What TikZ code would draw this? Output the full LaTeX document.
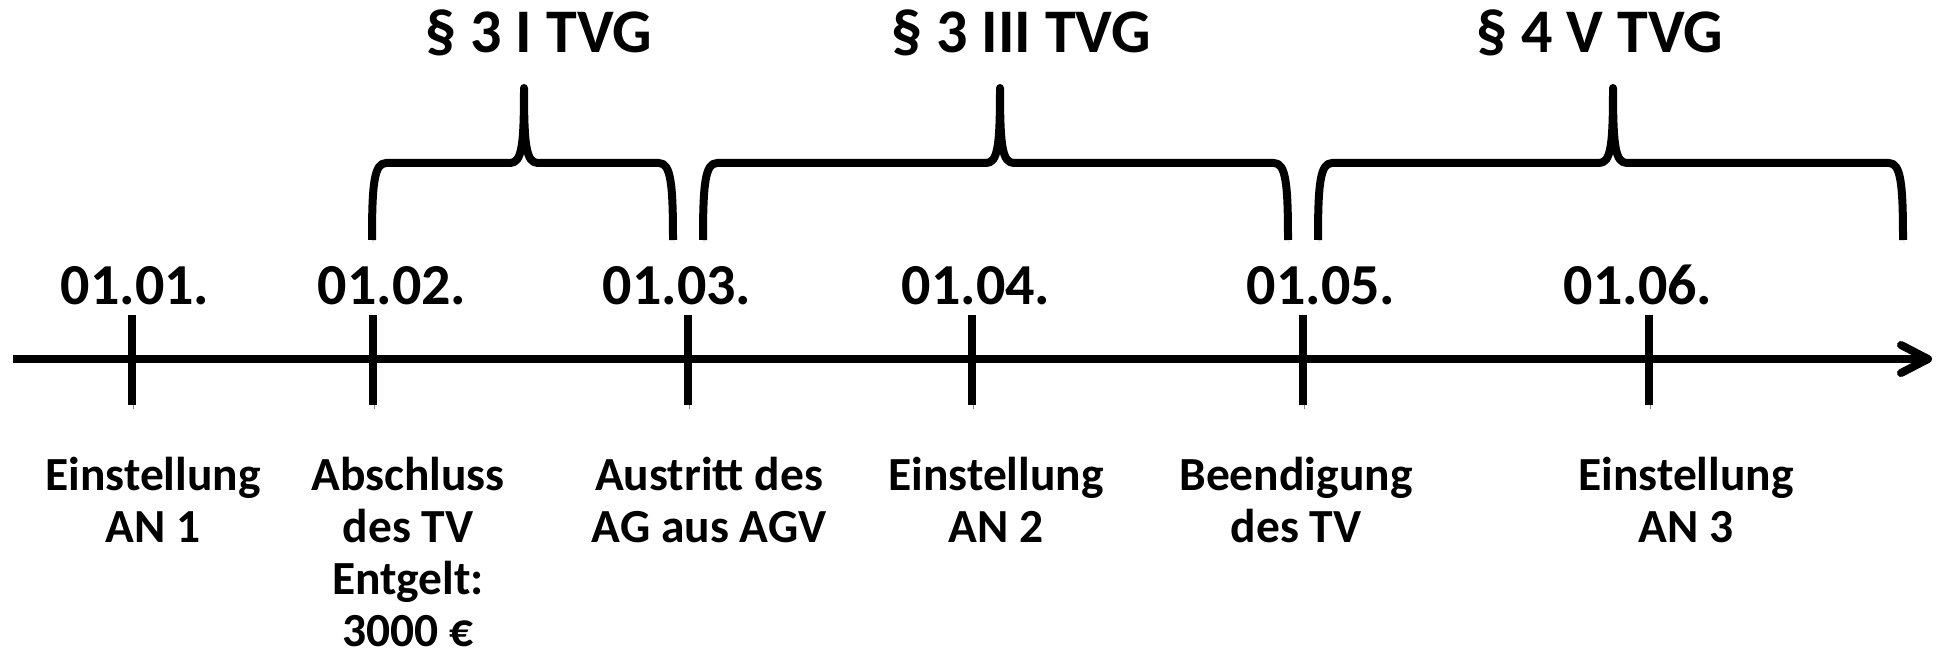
\documentclass[tikz,border=0pt]{standalone}
\usepackage{fontspec}
\setmainfont{Carlito}
\tikzset{
  ln/.style={line width=8pt,
    preaction={draw=black!45, transform canvas={shift={(1pt,-3.5pt)}}}},
  datelbl/.style={anchor=base, inner sep=0pt, font=\fontsize{58}{68}\selectfont\bfseries},
  titlelbl/.style={anchor=base, inner sep=0pt, font=\fontsize{62}{73}\selectfont\bfseries},
  evlbl/.style={anchor=base, inner sep=0pt, font=\fontsize{47.5}{52}\selectfont\bfseries},
}
\newcommand\tvbrace[3]{%
  \draw[ln, line join=round] (#1,240) .. controls (#1,185) and (#1+2,163) .. (#1+14,163)
    -- (#2-14,163) .. controls (#2-2,163) and (#2,145) .. (#2,88)
    .. controls (#2,145) and (#2+2,163) .. (#2+14,163)
    -- (#3-14,163) .. controls (#3-2,163) and (#3,185) .. (#3,240);}
\begin{document}
\begin{tikzpicture}[x=1pt,y=-1pt]
\useasboundingbox (0,0) rectangle (1939,666);
% time axis
\coordinate (axstart) at (13,359);
\coordinate (axtip) at (1928,359);
\draw[ln] (axstart) -- (axtip);
\draw[ln, line cap=round, line join=round] ([shift={(-27,-14)}]axtip) -- (axtip) -- ([shift={(-27,14)}]axtip);
% ticks
\foreach \n/\x in {d1/132, d2/373, d3/688, d4/972, d5/1303, d6/1649}{
  \coordinate (\n-top) at (\x,315);
  \coordinate (\n-bot) at (\x,405);
  \draw[ln] (\n-top) -- (\n-bot);
}
% dates
\node[datelbl] (date1) at (135,304) {01.01.};
\node[datelbl] (date2) at (392,304) {01.02.};
\node[datelbl] (date3) at (677,304) {01.03.};
\node[datelbl] (date4) at (976,304) {01.04.};
\node[datelbl] (date5) at (1321,304) {01.05.};
\node[datelbl] (date6) at (1638,304) {01.06.};
% braces
\tvbrace{372}{524}{673}
\tvbrace{703}{1000}{1288}
\tvbrace{1318}{1613}{1903}
% titles
\node[titlelbl] (title1) at (539,53) {§ 3 I TVG};
\node[titlelbl] (title2) at (1021,53) {§ 3 III TVG};
\node[titlelbl] (title3) at (1600,53) {§ 4 V TVG};
% events
\node[evlbl] (ev1) at (153,490) {\begin{tabular}[t]{@{}c@{}}Einstellung\\AN 1\end{tabular}};
\node[evlbl] (ev2) at (408,490) {\begin{tabular}[t]{@{}c@{}}Abschluss\\des TV\\Entgelt:\\3000 €\end{tabular}};
\node[evlbl] (ev3) at (709,490) {\begin{tabular}[t]{@{}c@{}}Austritt des\\AG aus AGV\end{tabular}};
\node[evlbl] (ev4) at (996,490) {\begin{tabular}[t]{@{}c@{}}Einstellung\\AN 2\end{tabular}};
\node[evlbl] (ev5) at (1296,490) {\begin{tabular}[t]{@{}c@{}}Beendigung\\des TV\end{tabular}};
\node[evlbl] (ev6) at (1686,490) {\begin{tabular}[t]{@{}c@{}}Einstellung\\AN 3\end{tabular}};
\end{tikzpicture}
\end{document}
